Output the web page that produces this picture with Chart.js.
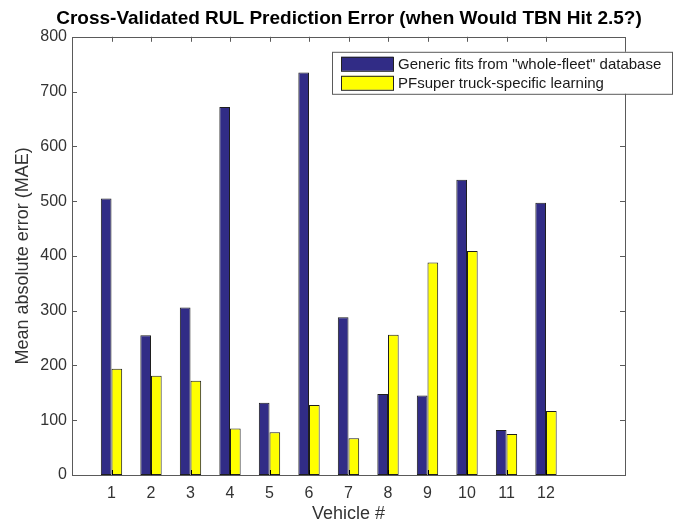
<!DOCTYPE html>
<html>
<head>
<meta charset="utf-8">
<script src="https://cdn.jsdelivr.net/npm/chart.js@4.4.0/dist/chart.umd.min.js"></script>
<style>
  html, body { margin: 0; padding: 0; background: #fff; }
  #wrap { width: 684px; height: 525px; }
</style>
</head>
<body>
<div id="wrap"><canvas id="c" width="684" height="525"></canvas></div>
<script>
const vehicles = [1, 2, 3, 4, 5, 6, 7, 8, 9, 10, 11, 12];
const genericMAE = [505, 255, 306, 672, 132, 735, 288, 148, 145, 539, 82, 497];
const pfsuperMAE = [194, 181, 172, 85, 78, 128, 67, 256, 388, 409, 75, 117];
const seriesLabels = ['Generic fits from "whole-fleet" database', 'PFsuper truck-specific learning'];
const seriesColors = ['#312c86', '#ffff00'];
const xRange = [0, 14];
const yRange = [0, 800];
const yStep = 100;

const FONT = "'Liberation Sans', Arial, Helvetica, sans-serif";

const matlabAxes = {
  id: 'matlabAxes',
  afterDatasetsDraw(chart) {
    const { ctx, chartArea: a, scales } = chart;
    ctx.save();
    ctx.strokeStyle = '#5a5a5a';
    ctx.lineWidth = 1;
    ctx.strokeRect(Math.round(a.left) + 0.5, Math.round(a.top) + 0.5,
                   Math.round(a.right - a.left), Math.round(a.bottom - a.top));
    const tl = 5;
    ctx.beginPath();
    scales.y.ticks.forEach(t => {
      const y = Math.round(scales.y.getPixelForValue(t.value)) + 0.5;
      ctx.moveTo(a.left, y); ctx.lineTo(a.left + tl, y);
      ctx.moveTo(a.right, y); ctx.lineTo(a.right - tl, y);
    });
    ctx.stroke();
    ctx.beginPath();
    scales.x.ticks.forEach(t => {
      const x = Math.round(scales.x.getPixelForValue(t.value)) + 0.5;
      ctx.moveTo(x, a.top); ctx.lineTo(x, a.top + tl);
    });
    ctx.stroke();
    ctx.strokeStyle = '#000';
    ctx.beginPath();
    scales.x.ticks.forEach(t => {
      const x = Math.round(scales.x.getPixelForValue(t.value)) + 0.5;
      ctx.moveTo(x, a.bottom); ctx.lineTo(x, a.bottom - tl);
    });
    ctx.stroke();
    ctx.restore();
  },
  afterDraw(chart) {
    const { ctx, chartArea: a } = chart;
    const bx = a.right - 293, by = a.top + 15, bw = 340, bh = 42;
    ctx.save();
    ctx.fillStyle = '#fff';
    ctx.fillRect(bx, by, bw, bh);
    ctx.strokeStyle = '#5a5a5a';
    ctx.lineWidth = 1;
    ctx.strokeRect(bx + 0.5, by + 0.5, bw, bh);
    chart.data.datasets.forEach((ds, i) => {
      const sy = by + 5 + i * 19;
      ctx.fillStyle = ds.backgroundColor;
      ctx.fillRect(bx + 9, sy, 52, 14);
      ctx.strokeStyle = '#222';
      ctx.strokeRect(bx + 9.5, sy + 0.5, 52, 14);
      ctx.fillStyle = '#1a1a1a';
      ctx.font = '15px ' + FONT;
      ctx.textBaseline = 'middle';
      ctx.fillText(ds.label, bx + 66, sy + 8);
    });
    ctx.restore();
  }
};

new Chart(document.getElementById('c'), {
  type: 'bar',
  data: {
    datasets: [
      {
        label: seriesLabels[0],
        data: vehicles.map((v, i) => ({ x: v, y: genericMAE[i] })),
        backgroundColor: seriesColors[0],
        borderColor: '#1e1e1e',
        borderWidth: 1,
        borderSkipped: false
      },
      {
        label: seriesLabels[1],
        data: vehicles.map((v, i) => ({ x: v, y: pfsuperMAE[i] })),
        backgroundColor: seriesColors[1],
        borderColor: '#1e1e1e',
        borderWidth: 1,
        borderSkipped: false
      }
    ]
  },
  plugins: [matlabAxes],
  options: {
    responsive: false,
    animation: false,
    devicePixelRatio: 1,
    categoryPercentage: 0.54,
    barPercentage: 1,
    layout: { padding: { left: 14, right: 0, top: 0, bottom: 0 } },
    plugins: {
      legend: { display: false },
      tooltip: { enabled: false },
      title: {
        display: true,
        text: 'Cross-Validated RUL Prediction Error (when Would TBN Hit 2.5?)',
        color: '#000',
        font: { family: FONT, size: 19, weight: 'bold' },
        padding: { top: 7, bottom: 7 }
      }
    },
    scales: {
      x: {
        type: 'linear',
        min: xRange[0],
        max: xRange[1],
        offset: false,
        grid: { display: false, drawTicks: false, offset: false },
        border: { display: false },
        afterBuildTicks: (s) => { s.ticks = vehicles.map(v => ({ value: v })); },
        ticks: {
          color: '#333',
          font: { family: FONT, size: 16 },
          padding: 9,
          maxRotation: 0,
          autoSkip: false,
          callback: (v) => String(v)
        },
        title: {
          display: true,
          text: 'Vehicle #',
          color: '#333',
          font: { family: FONT, size: 18 },
          padding: { top: 3, bottom: 0 }
        },
        afterFit: (s) => { s.height = 50; }
      },
      y: {
        min: yRange[0],
        max: yRange[1],
        grid: { display: false, drawTicks: false },
        border: { display: false },
        ticks: {
          stepSize: yStep,
          color: '#333',
          font: { family: FONT, size: 16 },
          padding: 5
        },
        title: {
          display: true,
          text: 'Mean absolute error (MAE)',
          color: '#333',
          font: { family: FONT, size: 18, lineHeight: 1 },
          padding: { top: 0, bottom: 0 }
        },
        afterFit: (s) => { s.width = 58; }
      },
      yRight: {
        position: 'right',
        min: yRange[0],
        max: yRange[1],
        grid: { display: false, drawTicks: false },
        border: { display: false },
        ticks: { display: false },
        afterFit: (s) => { s.width = 59; }
      }
    }
  }
});
</script>
</body>
</html>
